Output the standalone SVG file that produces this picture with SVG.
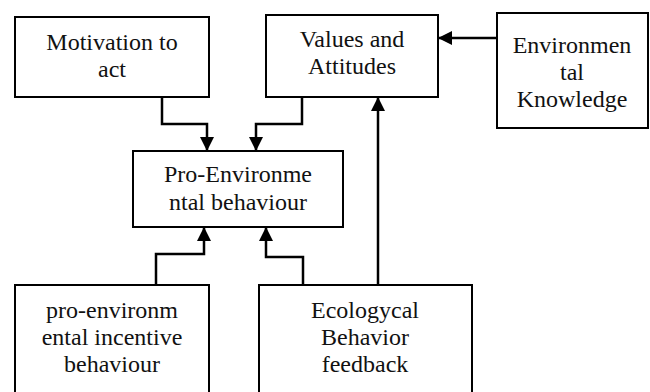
<svg xmlns="http://www.w3.org/2000/svg" width="650" height="392" viewBox="0 0 650 392">
<style>
.box{fill:#fff;stroke:#000;stroke-width:2}
.t{font-family:'Liberation Serif','Times New Roman','DejaVu Serif',serif;font-size:24px;fill:#111;text-anchor:middle}
.c{fill:none;stroke:#000;stroke-width:2.5;marker-end:url(#ah)}
</style>
<defs>
<marker id="ah" markerUnits="userSpaceOnUse" markerWidth="14" markerHeight="14" refX="14" refY="7" orient="auto" viewBox="0 0 14 14">
<path d="M0,0 L14,7 L0,14 Z" fill="#000"/>
</marker>
</defs>
<rect width="650" height="392" fill="#fff"/>
<g id="motivation">
<rect class="box" x="15" y="17" width="194" height="80"/>
<text class="t" x="112" y="50" font-family="Liberation Serif, serif">Motivation to</text>
<text class="t" x="112" y="77" font-family="Liberation Serif, serif">act</text>
</g>
<g id="values">
<rect class="box" x="266" y="15" width="172" height="82"/>
<text class="t" x="352" y="47">Values and</text>
<text class="t" x="352" y="74">Attitudes</text>
</g>
<g id="knowledge">
<rect class="box" x="497" y="13" width="151" height="115"/>
<text class="t" x="572" y="53">Environmen</text>
<text class="t" x="572" y="80">tal</text>
<text class="t" x="572" y="107">Knowledge</text>
</g>
<g id="pro-env">
<rect class="box" x="133" y="151" width="210" height="76"/>
<text class="t" x="238" y="182">Pro-Environme</text>
<text class="t" x="238" y="210">ntal behaviour</text>
</g>
<g id="incentive">
<rect class="box" x="15" y="285" width="194" height="120"/>
<text class="t" x="112" y="318">pro-environm</text>
<text class="t" x="112" y="345">ental incentive</text>
<text class="t" x="112" y="372">behaviour</text>
</g>
<g id="feedback">
<rect class="box" x="259" y="285" width="213" height="120"/>
<text class="t" x="365" y="318">Ecologycal</text>
<text class="t" x="365" y="345">Behavior</text>
<text class="t" x="365" y="372">feedback</text>
</g>
<g id="connectors">
<path class="c" d="M162,97 V124 H207 V151"/>
<path class="c" d="M302,97 V124 H256 V151"/>
<path class="c" d="M497,38 H438"/>
<path class="c" d="M378,285 V97"/>
<path class="c" d="M156,285 V254 H204 V227"/>
<path class="c" d="M303,285 V257 H266 V227"/>
</g>
</svg>
